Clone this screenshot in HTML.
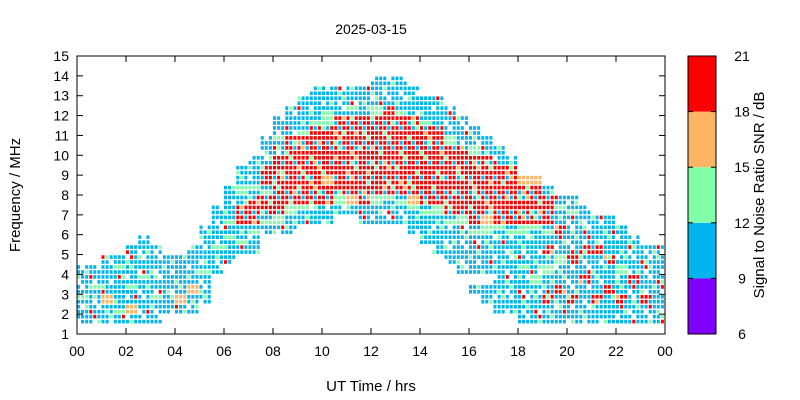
<!DOCTYPE html>
<html><head><meta charset="utf-8"><style>
body{margin:0;background:#fff;}
svg{display:block;font-family:"Liberation Sans",sans-serif;}
</style></head><body>
<svg id="chart" width="800" height="400" viewBox="0 0 800 400" xmlns="http://www.w3.org/2000/svg">
<text x="371" y="34" font-size="14" text-anchor="middle">2025-03-15</text>
<text transform="translate(20,195) rotate(-90)" font-size="15" text-anchor="middle">Frequency / MHz</text>
<text x="371" y="391" font-size="15" text-anchor="middle">UT Time / hrs</text>
<text transform="translate(764,195) rotate(-90)" font-size="15" text-anchor="middle">Signal to Noise Ratio SNR / dB</text>
<g id="marks"></g>
<g id="axes"></g>
<g id="cbar"></g>
</svg>
<script>
// Data: per half-hour column, SNR class per 0.5 MHz bin starting at 1 MHz
const timeStarts = [0,0.5,1,1.5,2,2.5,3,3.5,4,4.5,5,5.5,6,6.5,7,7.5,8,8.5,9,9.5,10,10.5,11,11.5,12,12.5,13,13.5,14,14.5,15,15.5,16,16.5,17,17.5,18,18.5,19,19.5,20,20.5,21,21.5,22,22.5,23,23.5];
const snrColumns = [
".bbgbbb",".bbbgbb",".bbobbbb",".bgbbbgb",".bobgbbbb",".bbbbgbbbb",".bbgbbbbb","..bbbbbb",
"..bobbbb","..bbobbbb","...bbbgbbbb","......bbgbbbb",".......bbgbgbbb","........bgbrrbgbb","........bbgrrrgbbb","..........bgrrgrrbbb",
"..........bgrrrrrrbgbb","..........bbgrrrrrrrbbb","...........bgrrrrrrrgbbb","...........bbrrrrrrrrgbbb","...........bbrrorrrrrggbb","............bgrrrrrrrrbbb","............borrrrrrrrgbb","...........bbrrrrrrrrrbbb",
"...........bbgrrrrrrrrgbbb","...........bbgrrrrrrrrrbbb","...........bbgrrrrrrrrgbbb","..........bbgorrrrrrrrbbb",".........bbbgrrrrrrrrgbb","........bbbbgrrrrrrrrbbb",".......bbbbgrrrrrrrgbbb","......bbbbbgrrrrrrrbbb",
"....b.bbbbgrrrrrrrgbb","...bb.bbbbgorrrrrrbb","..bbbbbbbbgrrrrrrbb","..bbbbbbbbgrrrrrrb",".bbbbbgbbbgrrrro",".bbbbgbbbbgrrrro",".bbrbbgbrbgrrrb",".bbbrbbgbbrbgb",
".bbrbbbrbbbbgb",".bbbbrbbrbbbb",".bbrbbbbrbbb",".bbbrbbrbbbb",".bbrbbgbbbb",".bbbbrbbbb",".bbrbbbbb",".bbbbbbbb"];
const yTicks = [1,2,3,4,5,6,7,8,9,10,11,12,13,14,15];
const xTicks = [0,2,4,6,8,10,12,14,16,18,20,22,24];
const xTickLabels = ["00","02","04","06","08","10","12","14","16","18","20","22","00"];
const cbarTicks = [6,9,12,15,18,21];
const cbarBands = [[6,9,"#8000ff"],[9,12,"#00b4f0"],[12,15,"#80ffa8"],[15,18,"#ffb464"],[18,21,"#ff0000"]];
const classColor = {b:"#00b4f0",g:"#80ffa8",o:"#ffb464",r:"#ff0000"};

const NS="http://www.w3.org/2000/svg";
const L=77,R=665,T=56,B=334;
const xS=h=>L+(h/24)*(R-L);
const yS=f=>B-(f-1)/14*(B-T);
const cbS=v=>B-(v-6)/15*(B-T);
function mk(tag,attrs,parent){const e=document.createElementNS(NS,tag);for(const k in attrs)e.setAttribute(k,attrs[k]);parent.appendChild(e);return e;}

const marks=document.getElementById('marks');
snrColumns.forEach((s,ci)=>{
  const t0=timeStarts[ci];
  for(let k=0;k<s.length;k++){
    const c=s[k]; if(c==='.')continue;
    const f0=1+0.5*k;
    for(let sub=0;sub<2;sub++){
      const yTop=yS(f0+0.25*(sub+1)), yBot=yS(f0+0.25*sub);
      for(let j=0;j<3;j++){
        const h=(ci*7+j*3+k*5+sub*2);
        let col=classColor[c];
        if(c==='r'){ if(h%7===0) col=classColor.b; else if(h%11===0) col=classColor.g; else if(h%13===0) col=classColor.o; }
        else if(c==='b'){ if(h%9===0) col=classColor.g; else if(h%17===0) col=classColor.r; if(h%10===5) continue; }
        else if(c==='g'){ if(h%3===0) col=classColor.b; }
        const x=xS(t0+j/6);
        const r=mk('rect',{x:x.toFixed(1),y:(yTop+0.7).toFixed(1),width:3,height:(yBot-yTop-1.4).toFixed(1),fill:col},marks);
        
        
      }
    }
  }
});

const axes=document.getElementById('axes');
mk('rect',{x:L,y:T,width:R-L,height:B-T,fill:"none",stroke:"#000","stroke-width":1},axes);
yTicks.forEach(v=>{
  const y=yS(v);
  mk('line',{x1:L,x2:L+6,y1:y,y2:y,stroke:"#000"},axes);
  mk('line',{x1:R,x2:R-6,y1:y,y2:y,stroke:"#000"},axes);
  const t=mk('text',{x:L-8,y:y+5,"font-size":14,"text-anchor":"end"},axes);
  t.textContent=v;
  
  
});
xTicks.forEach((v,i)=>{
  const x=xS(v);
  mk('line',{x1:x,x2:x,y1:B,y2:B-6,stroke:"#000"},axes);
  mk('line',{x1:x,x2:x,y1:T,y2:T+6,stroke:"#000"},axes);
  const t=mk('text',{x:x,y:B+22,"font-size":14,"text-anchor":"middle"},axes);
  t.textContent=xTickLabels[i];
  
  
});

const cbar=document.getElementById('cbar');
const CL=688,CR=716;
cbarBands.forEach(b=>{
  const r=mk('rect',{x:CL,y:cbS(b[1]),width:CR-CL,height:cbS(b[0])-cbS(b[1]),fill:b[2]},cbar);
  
  
});
mk('rect',{x:CL,y:T,width:CR-CL,height:B-T,fill:"none",stroke:"#000"},cbar);
cbarTicks.forEach(v=>{
  const y=cbS(v);
  mk('line',{x1:CL,x2:CL+5,y1:y,y2:y,stroke:"#000"},cbar);
  mk('line',{x1:CR,x2:CR-5,y1:y,y2:y,stroke:"#000"},cbar);
  const t=mk('text',{x:CR+26,y:y+5,"font-size":14,"text-anchor":"middle"},cbar);
  t.textContent=v;
  
  
});
</script>
</body></html>
